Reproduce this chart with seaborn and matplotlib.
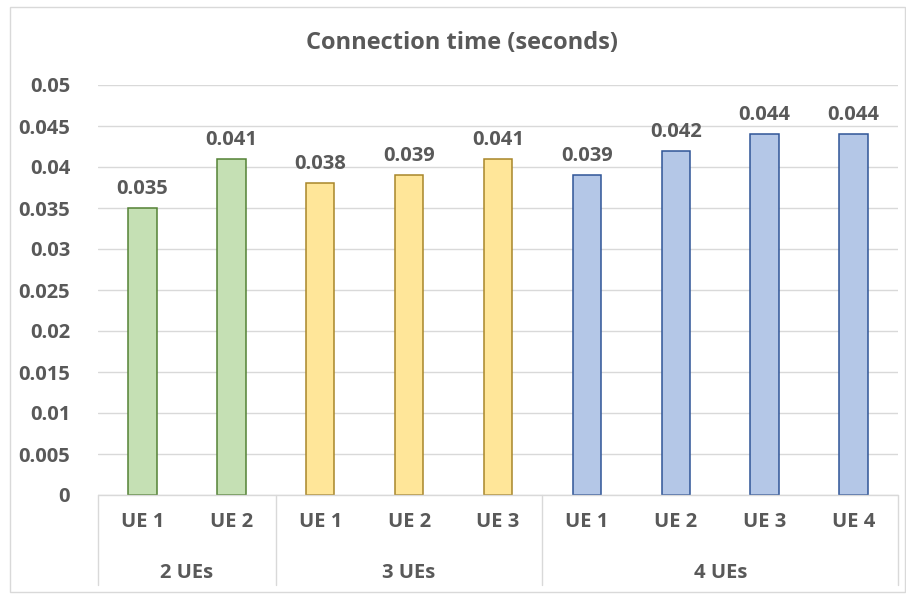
import pandas as pd
import numpy as np
import matplotlib
matplotlib.use("Agg")
import matplotlib.pyplot as plt
from matplotlib.patches import Rectangle
from matplotlib.lines import Line2D
import seaborn as sns

groups = ['2 UEs', '2 UEs', '3 UEs', '3 UEs', '3 UEs', '4 UEs', '4 UEs', '4 UEs', '4 UEs']
ues = ['UE 1', 'UE 2', 'UE 1', 'UE 2', 'UE 3', 'UE 1', 'UE 2', 'UE 3', 'UE 4']
times = [0.035, 0.041, 0.038, 0.039, 0.041, 0.039, 0.042, 0.044, 0.044]
group_names = ['2 UEs', '3 UEs', '4 UEs']
fills = {'2 UEs': '#C5E0B4', '3 UEs': '#FFE699', '4 UEs': '#B4C7E7'}
edges = {'2 UEs': '#548235', '3 UEs': '#A8862A', '4 UEs': '#2F5597'}

df = pd.DataFrame({'pos': [str(i) for i in range(len(times))], 'group': groups, 'ue': ues, 'time': times})

sns.set_style("white")
plt.rcParams['font.family'] = ['Open Sans', 'DejaVu Sans']
TXT = '#595959'
FS = 14.5

fig = plt.figure(figsize=(9.06, 5.96), dpi=100)
ax = fig.add_axes([98/906, 1-495/596, 800/906, 410/596])

sns.barplot(data=df, x='pos', y='time', hue='group', palette=fills, dodge=False,
            width=0.32, saturation=1, legend=False, ax=ax)
for bar, g in zip(ax.patches, groups):
    bar.set_edgecolor(edges[g])
    bar.set_linewidth(1.1)

ax.set_ylim(0, 0.05)
ax.set_xlim(-0.5, len(times) - 0.5)
yt = np.arange(0, 0.0501, 0.005)
ax.set_yticks(yt)
ax.set_yticklabels(['0' if v == 0 else ('%.3f' % v).rstrip('0') for v in yt])
ax.tick_params(axis='y', length=0, pad=20, labelsize=FS, labelcolor=TXT)
for lab in ax.get_yticklabels():
    lab.set_fontweight('bold')
ax.yaxis.grid(True, color='#D9D9D9', linewidth=1)
ax.set_axisbelow(True)
for s in ax.spines.values():
    s.set_visible(False)
ax.set_xticks([])
ax.set_xlabel('')
ax.set_ylabel('')

# value labels
for i, v in enumerate(times):
    ax.text(i, v + 0.0011, '%.3f' % v, ha='center', va='bottom', fontsize=FS,
            fontweight='bold', color=TXT)

# axis line and category labels
trans = ax.get_xaxis_transform()
ax.add_line(Line2D([-0.5, len(times) - 0.5], [0, 0], transform=trans, color='#D9D9D9', lw=1, clip_on=False))
for i, u in enumerate(ues):
    ax.text(i, -27/410, u, transform=trans, ha='center', va='center', fontsize=FS,
            fontweight='bold', color=TXT)

# group separators and group labels
start = 0
bounds = [-0.5]
for g in group_names:
    n = groups.count(g)
    ax.text(start + (n - 1) / 2, -78/410, g, transform=trans, ha='center', va='center',
            fontsize=FS, fontweight='bold', color=TXT)
    start += n
    bounds.append(start - 0.5)
for b in bounds:
    ax.add_line(Line2D([b, b], [0, -90/410], transform=trans, color='#D9D9D9', lw=1, clip_on=False))

fig.text(462/906, 1-43/596, 'Connection time (seconds)', ha='center', va='center',
         fontsize=17, fontweight='bold', color=TXT)

fig.add_artist(Rectangle((10/906, 4/596), 895/906, 585/596, transform=fig.transFigure,
                         fill=False, edgecolor='#D9D9D9', lw=1))

fig.savefig('out.png', dpi=100)
